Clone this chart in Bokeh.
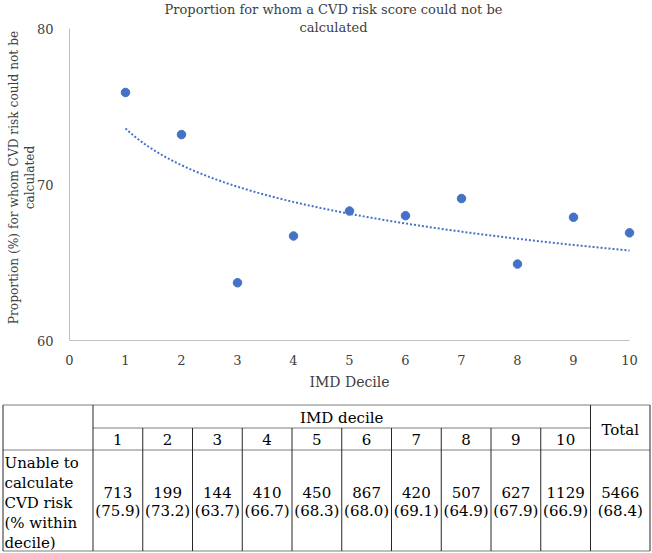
import numpy as np
from bokeh.plotting import figure
from bokeh.models import Range1d, Label, FixedTicker, LinearAxis
from bokeh.layouts import column
from bokeh.embed import file_html
from bokeh.resources import INLINE
from bokeh.core.properties import value

# ---------------- data ----------------
deciles = [1, 2, 3, 4, 5, 6, 7, 8, 9, 10]
proportions = [75.9, 73.2, 63.7, 66.7, 68.3, 68.0, 69.1, 64.9, 67.9, 66.9]
counts = [713, 199, 144, 410, 450, 867, 420, 507, 627, 1129]
total_count = 5466
total_pct = 68.4
x_ticks = [0, 1, 2, 3, 4, 5, 6, 7, 8, 9, 10]
y_ticks = [60, 70, 80]
chart_title = ["Proportion for whom a CVD risk score could not be", "calculated"]
y_label_lines = ["Proportion (%) for whom CVD risk could not be", "calculated"]
x_label = "IMD Decile"
row_label_lines = ["Unable to", "calculate", "CVD risk", "(% within", "decile)"]
header_text = "IMD decile"
total_header = "Total"

BLUE = "#4472C4"
CFONT = "DejaVu Serif"
TSERIF = "DejaVu Serif"
TXT = "#404040"

# ---------------- chart layout (pixels) ----------------
W, H1 = 652, 398
PX_X0, PX_X10 = 69.0, 629.0      # pixel of x=0 and x=10
PX_Y80, PX_Y60 = 28.0, 340.0     # pixel of y=80 and y=60
kx = (PX_X10 - PX_X0) / 10.0
ky = (PX_Y60 - PX_Y80) / 20.0
X0, X1 = -PX_X0 / kx, (W - PX_X0) / kx
Y1, Y0 = 80 + PX_Y80 / ky, 60 - (H1 - PX_Y60) / ky


def dx(px):
    return (px - PX_X0) / kx


def dy(py):
    return 80 - (py - PX_Y80) / ky


p = figure(width=W, height=H1, x_range=Range1d(X0, X1), y_range=Range1d(Y0, Y1),
           output_backend="svg", toolbar_location=None,
           x_axis_location=None, y_axis_location=None,
           min_border=0, min_border_left=0, min_border_right=0, min_border_top=0, min_border_bottom=0)
p.outline_line_color = None
p.grid.visible = False

yaxis = LinearAxis(fixed_location=0, ticker=FixedTicker(ticks=y_ticks), bounds=(60, 80))
xaxis = LinearAxis(fixed_location=60, ticker=FixedTicker(ticks=x_ticks), bounds=(0, 10))
for ax in (xaxis, yaxis):
    ax.major_tick_line_color = None
    ax.minor_tick_line_color = None
    ax.axis_line_color = "#BFBFBF"
    ax.axis_line_width = 1
    ax.major_label_text_font = CFONT
    ax.major_label_text_font_size = "13px"
    ax.major_label_text_color = TXT
xaxis.major_label_standoff = 8
yaxis.major_label_standoff = 10
p.add_layout(yaxis, "left")
p.add_layout(xaxis, "below")

# logarithmic trendline fitted to the data (as in the source spreadsheet)
b, a = np.polyfit(np.log(deciles), proportions, 1)
xs = np.linspace(deciles[0], deciles[-1], 200)
p.line(xs, a + b * np.log(xs), line_color=BLUE, line_width=2, line_dash="2 2")

p.scatter(deciles, proportions, size=8.5, fill_color=BLUE, line_color=BLUE)

# title (two lines)
for txt, py in zip(chart_title, [9, 27]):
    p.add_layout(Label(x=dx(333), y=dy(py), text=txt, text_align="center", text_baseline="middle",
                       text_font=CFONT, text_font_size="13px", text_color=TXT))
# y axis label (two rotated lines)
for txt, px in zip(y_label_lines, [13, 29]):
    p.add_layout(Label(x=dx(px), y=dy(177), text=txt, angle=np.pi / 2, text_align="center",
                       text_baseline="middle", text_font=CFONT, text_font_size="12.2px",
                       text_color=TXT))
# x axis label
p.add_layout(Label(x=dx(349), y=dy(381), text=x_label, text_align="center", text_baseline="middle",
                   text_font=CFONT, text_font_size="14px", text_color=TXT))

# ---------------- table ----------------
TH = 553 - H1
t = figure(width=W, height=TH, x_range=Range1d(0, W), y_range=Range1d(TH, 0),
           output_backend="svg", toolbar_location=None,
           x_axis_location=None, y_axis_location=None,
           min_border=0, min_border_left=0, min_border_right=0, min_border_top=0, min_border_bottom=0)
t.grid.visible = False
t.outline_line_color = None

x_left, x_lab = 2.5, 92.5
col_w = 49.75
edges = [x_lab + i * col_w for i in range(len(deciles) + 1)]
x_right = 649.5
y_top, y_sub, y_head, y_bot = 6.5, 29.5, 51.5, 152.5
GRAY = "#7f7f7f"
DARK = "#262626"

# horizontal lines
t.segment(x0=[x_left, x_lab, x_left, x_left], y0=[y_top, y_sub, y_head, y_bot],
          x1=[x_right, edges[-1], x_right, x_right], y1=[y_top, y_sub, y_head, y_bot],
          line_color=GRAY, line_width=1)
# outer / full-height verticals
t.segment(x0=[x_left, x_lab, edges[-1], x_right], y0=[y_top] * 4,
          x1=[x_left, x_lab, edges[-1], x_right], y1=[y_bot] * 4,
          line_color=DARK, line_width=1)
# inner decile dividers
inner = edges[1:-1]
t.segment(x0=inner, y0=[y_sub] * len(inner), x1=inner, y1=[y_bot] * len(inner),
          line_color=DARK, line_width=1)

centers = [(edges[i] + edges[i + 1]) / 2 for i in range(len(deciles))]
tot_c = (edges[-1] + x_right) / 2
tf = value(TSERIF)
FS = "15px"
common = dict(text_baseline="middle", text_font=tf, text_font_size=FS, text_color="black")
t.text(x=[(x_lab + edges[-1]) / 2], y=[19], text=[header_text], text_align="center", **common)
t.text(x=[tot_c], y=[31], text=[total_header], text_align="center", **common)
t.text(x=centers, y=[41] * len(deciles), text=[str(d) for d in deciles], text_align="center", **common)
t.text(x=centers + [tot_c], y=[94] * (len(deciles) + 1),
       text=[str(c) for c in counts] + [str(total_count)], text_align="center", **common)
t.text(x=centers + [tot_c], y=[112] * (len(deciles) + 1),
       text=["(%.1f)" % v for v in proportions] + ["(%.1f)" % total_pct], text_align="center", **common)
t.text(x=[4] * len(row_label_lines), y=[64 + 20 * i for i in range(len(row_label_lines))],
       text=row_label_lines, text_align="left", **common)

layout = column(p, t, spacing=0)
open("out.html", "w").write(file_html(layout, INLINE))
